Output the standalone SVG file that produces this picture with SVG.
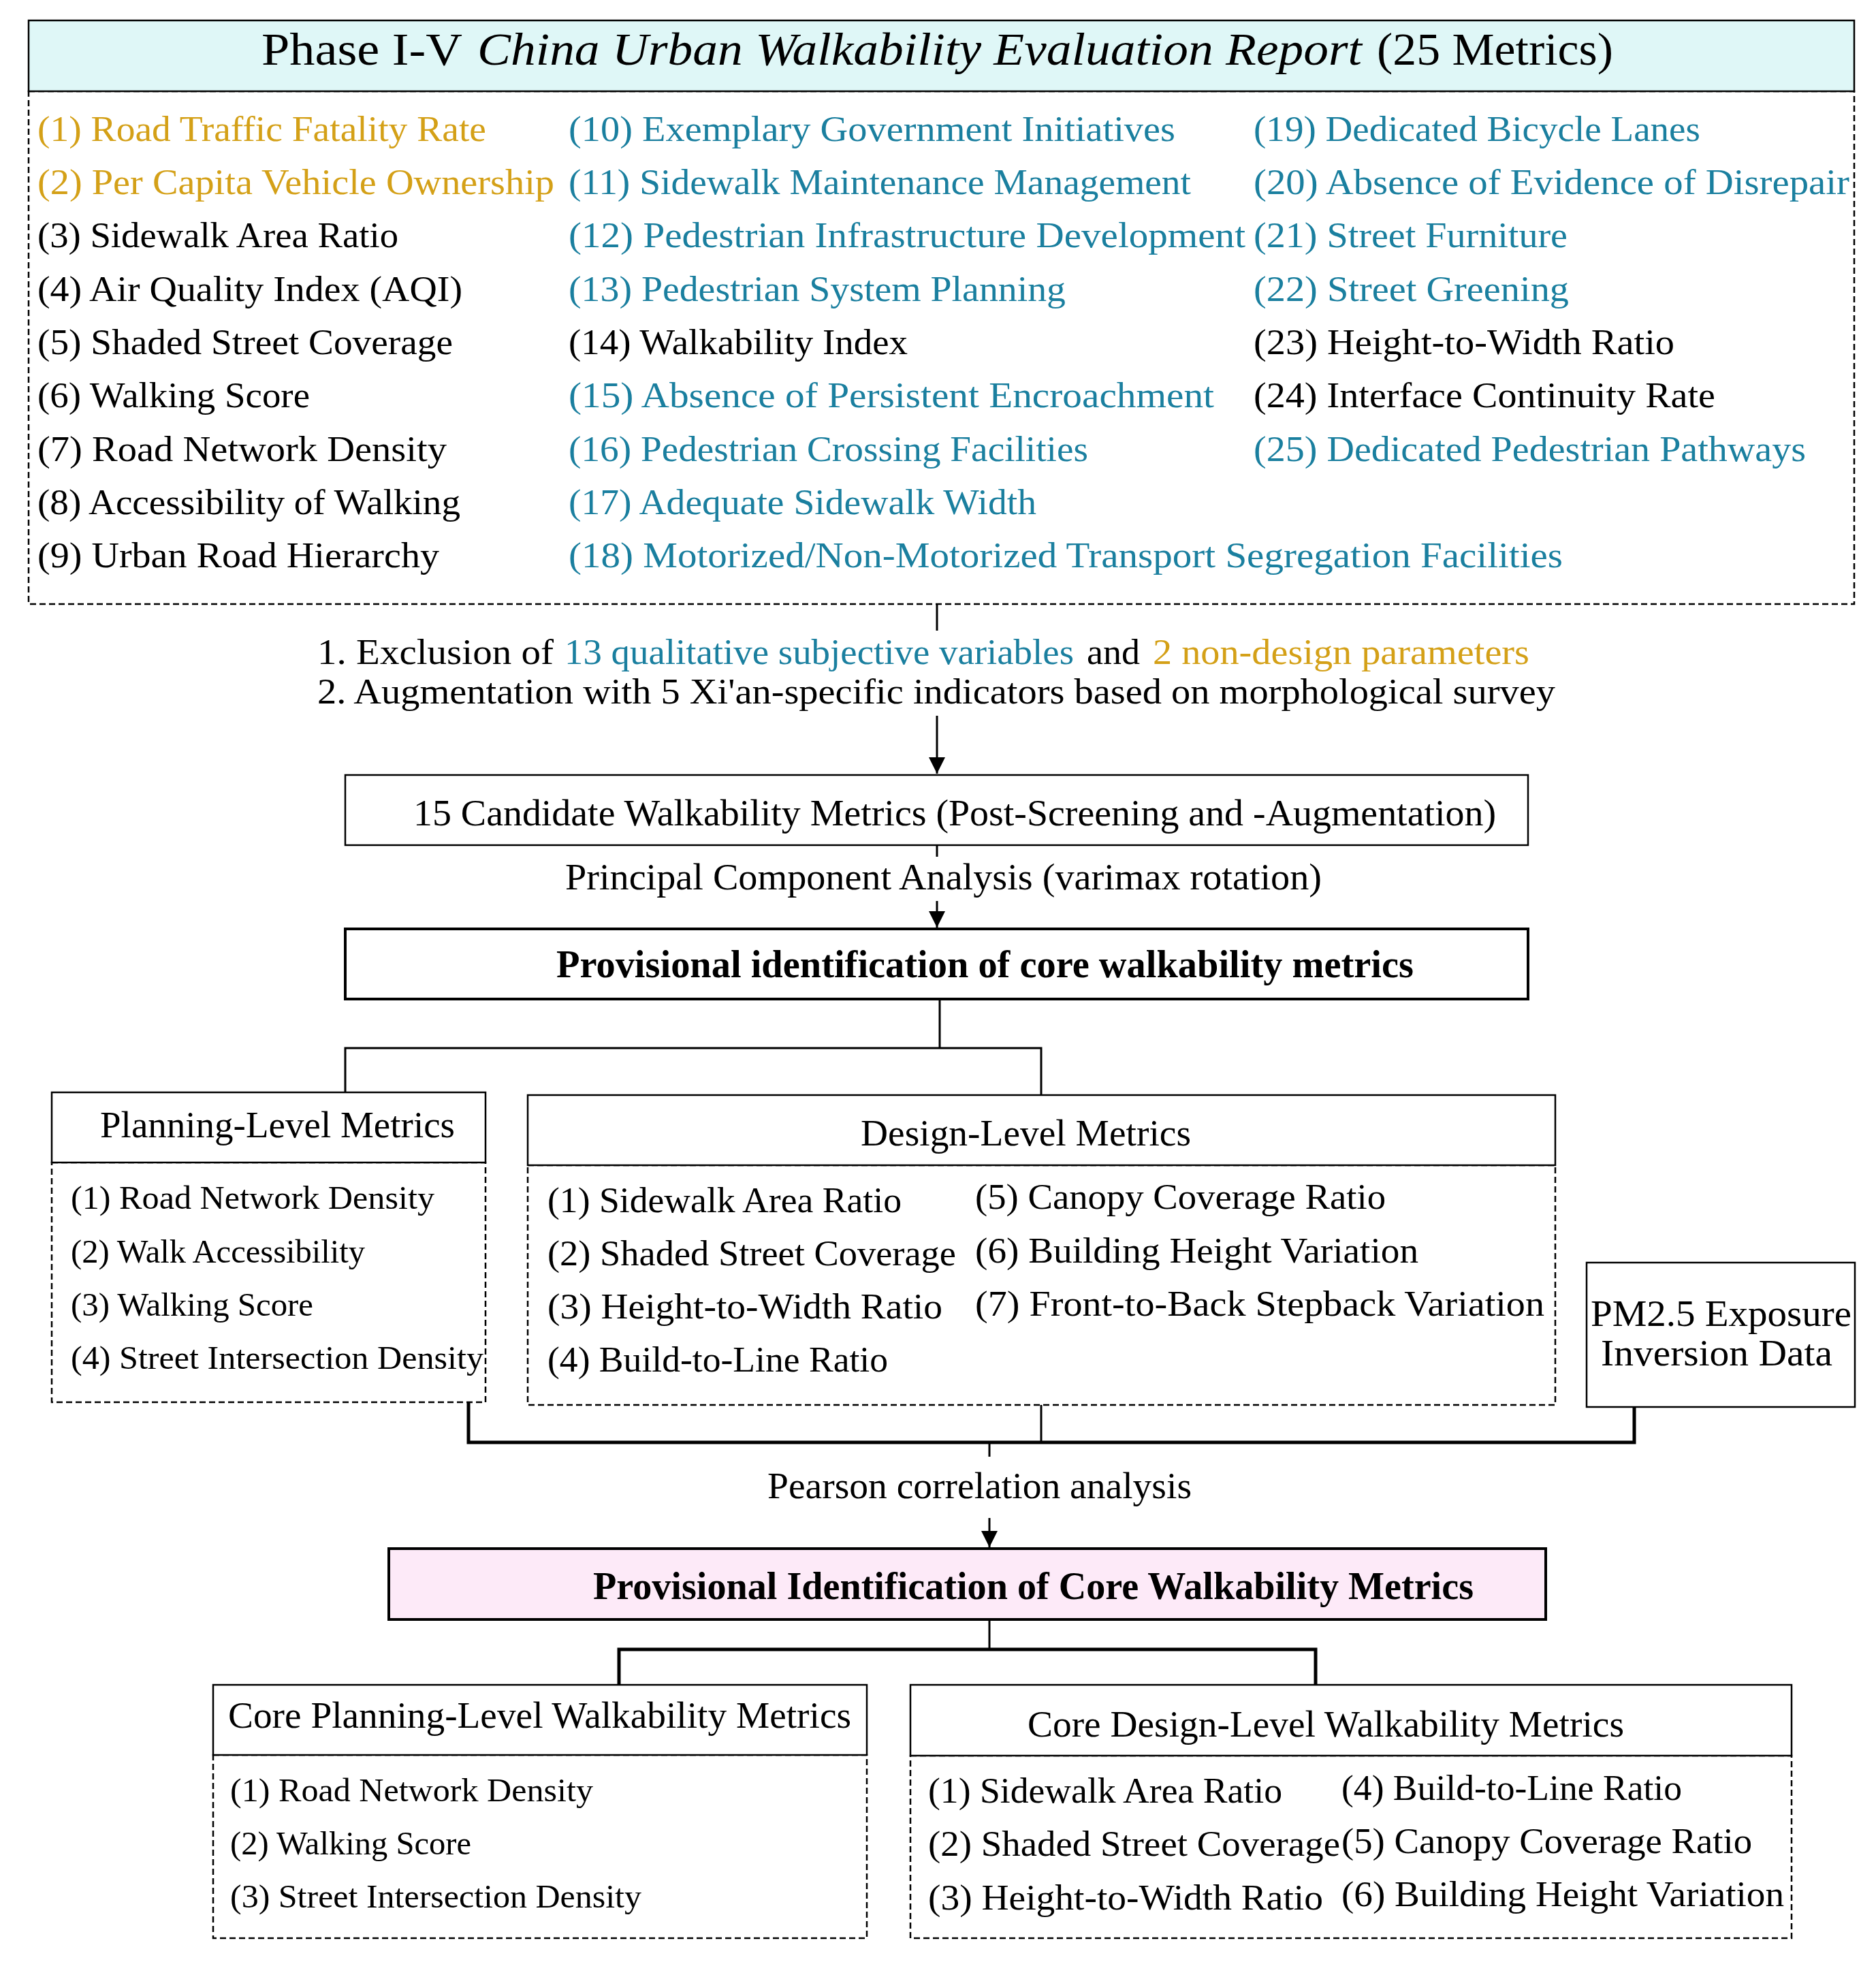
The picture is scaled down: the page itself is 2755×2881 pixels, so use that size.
<svg xmlns="http://www.w3.org/2000/svg" width="2755" height="2881" viewBox="0 0 2755 2881">
<style>
text{font-family:"Liberation Serif","DejaVu Serif",serif;fill:#000}
.ti{font-size:68px}
.l{font-size:53px}
.s{font-size:48px}
.h{font-size:55px}
.bd{font-size:57px;font-weight:bold}
.g{fill:#d4a017}
.c{fill:#1a7f9f}
.box{fill:#fff;stroke:#000;stroke-width:2.5}
.thick{fill:#fff;stroke:#000;stroke-width:4}
.dash{fill:#fff;stroke:#000;stroke-width:2.5;stroke-dasharray:9 5}
.ln{fill:none;stroke:#000;stroke-width:3}
.lnb{fill:none;stroke:#000;stroke-width:5}
</style>
<defs>
<marker id="arr" markerUnits="userSpaceOnUse" markerWidth="26" markerHeight="28" refX="24" refY="12" orient="auto">
<path d="M0,0 L24,12 L0,24 Z" fill="#000"/>
</marker>
</defs>
<rect width="2755" height="2881" fill="#fff"/>

<g id="connectors">
<line class="ln" x1="1376" y1="888" x2="1376" y2="926"/>
<line class="ln" x1="1376" y1="1051" x2="1376" y2="1136" marker-end="url(#arr)"/>
<line class="ln" x1="1376" y1="1241" x2="1376" y2="1258"/>
<line class="ln" x1="1376" y1="1323" x2="1376" y2="1362" marker-end="url(#arr)"/>
<polyline class="ln" points="1380,1467 1380,1539"/>
<polyline class="ln" points="507,1604 507,1539 1529,1539 1529,1608"/>
<polyline class="lnb" points="688,2060 688,2118 2400,2118 2400,2066"/>
<line class="ln" x1="1529" y1="2063" x2="1529" y2="2118"/>
<line class="ln" x1="1453" y1="2118" x2="1453" y2="2139"/>
<line class="ln" x1="1453" y1="2229" x2="1453" y2="2272" marker-end="url(#arr)"/>
<line class="ln" x1="1453" y1="2378" x2="1453" y2="2422"/>
<polyline class="lnb" points="909,2474 909,2422 1932,2422 1932,2474"/>
</g>

<g id="report">
<rect class="dash" x="42" y="134" width="2681" height="753"/>
<rect x="42" y="30" width="2681" height="104" fill="#dff7f7" stroke="#000" stroke-width="2.5"/>
<text class="ti" y="95"><tspan x="384" textLength="295" lengthAdjust="spacingAndGlyphs">Phase I-V</tspan><tspan x="701" font-style="italic" textLength="1299" lengthAdjust="spacingAndGlyphs">China Urban Walkability Evaluation Report</tspan><tspan x="2022" textLength="347" lengthAdjust="spacingAndGlyphs">(25 Metrics)</tspan></text>
<g class="l" >
<text class="g" x="55" y="207" textLength="659" lengthAdjust="spacingAndGlyphs">(1) Road Traffic Fatality Rate</text>
<text class="g" x="55" y="285" textLength="759" lengthAdjust="spacingAndGlyphs">(2) Per Capita Vehicle Ownership</text>
<text x="55" y="363" textLength="530" lengthAdjust="spacingAndGlyphs">(3) Sidewalk Area Ratio</text>
<text x="55" y="442" textLength="624" lengthAdjust="spacingAndGlyphs">(4) Air Quality Index (AQI)</text>
<text x="55" y="520" textLength="610" lengthAdjust="spacingAndGlyphs">(5) Shaded Street Coverage</text>
<text x="55" y="598" textLength="400" lengthAdjust="spacingAndGlyphs">(6) Walking Score</text>
<text x="55" y="677" textLength="601" lengthAdjust="spacingAndGlyphs">(7) Road Network Density</text>
<text x="55" y="755" textLength="621" lengthAdjust="spacingAndGlyphs">(8) Accessibility of Walking</text>
<text x="55" y="833" textLength="590" lengthAdjust="spacingAndGlyphs">(9) Urban Road Hierarchy</text>

<text class="c" x="835" y="207" textLength="891" lengthAdjust="spacingAndGlyphs">(10) Exemplary Government Initiatives</text>
<text class="c" x="835" y="285" textLength="914" lengthAdjust="spacingAndGlyphs">(11) Sidewalk Maintenance Management</text>
<text class="c" x="835" y="363" textLength="994" lengthAdjust="spacingAndGlyphs">(12) Pedestrian Infrastructure Development</text>
<text class="c" x="835" y="442" textLength="730" lengthAdjust="spacingAndGlyphs">(13) Pedestrian System Planning</text>
<text x="835" y="520" textLength="498" lengthAdjust="spacingAndGlyphs">(14) Walkability Index</text>
<text class="c" x="835" y="598" textLength="948" lengthAdjust="spacingAndGlyphs">(15) Absence of Persistent Encroachment</text>
<text class="c" x="835" y="677" textLength="763" lengthAdjust="spacingAndGlyphs">(16) Pedestrian Crossing Facilities</text>
<text class="c" x="835" y="755" textLength="687" lengthAdjust="spacingAndGlyphs">(17) Adequate Sidewalk Width</text>
<text class="c" x="835" y="833" textLength="1460" lengthAdjust="spacingAndGlyphs">(18) Motorized/Non-Motorized Transport Segregation Facilities</text>

<text class="c" x="1841" y="207" textLength="656" lengthAdjust="spacingAndGlyphs">(19) Dedicated Bicycle Lanes</text>
<text class="c" x="1841" y="285" textLength="875" lengthAdjust="spacingAndGlyphs">(20) Absence of Evidence of Disrepair</text>
<text class="c" x="1841" y="363" textLength="461" lengthAdjust="spacingAndGlyphs">(21) Street Furniture</text>
<text class="c" x="1841" y="442" textLength="463" lengthAdjust="spacingAndGlyphs">(22) Street Greening</text>
<text x="1841" y="520" textLength="618" lengthAdjust="spacingAndGlyphs">(23) Height-to-Width Ratio</text>
<text x="1841" y="598" textLength="678" lengthAdjust="spacingAndGlyphs">(24) Interface Continuity Rate</text>
<text class="c" x="1841" y="677" textLength="811" lengthAdjust="spacingAndGlyphs">(25) Dedicated Pedestrian Pathways</text>
</g>
</g>

<g id="screening-label" class="l">
<text y="975"><tspan x="466" textLength="347" lengthAdjust="spacingAndGlyphs">1. Exclusion of</tspan><tspan class="c" x="829" textLength="748" lengthAdjust="spacingAndGlyphs">13 qualitative subjective variables</tspan><tspan x="1596" textLength="78" lengthAdjust="spacingAndGlyphs">and</tspan><tspan class="g" x="1693" textLength="553" lengthAdjust="spacingAndGlyphs">2 non-design parameters</tspan></text>
<text x="466" y="1033" textLength="1818" lengthAdjust="spacingAndGlyphs">2. Augmentation with 5 Xi'an-specific indicators based on morphological survey</text>
</g>

<g id="candidate">
<rect class="box" x="507" y="1138" width="1737" height="103"/>
<text class="h" x="607" y="1212" textLength="1590" lengthAdjust="spacingAndGlyphs">15 Candidate Walkability Metrics (Post-Screening and -Augmentation)</text>
</g>

<g id="pca-label">
<text class="h" x="830" y="1306" textLength="1111" lengthAdjust="spacingAndGlyphs">Principal Component Analysis (varimax rotation)</text>
</g>

<g id="provisional1">
<rect class="thick" x="507" y="1364" width="1737" height="103"/>
<text class="bd" x="817" y="1435" textLength="1259" lengthAdjust="spacingAndGlyphs">Provisional identification of core walkability metrics</text>
</g>

<g id="planning">
<rect class="dash" x="76" y="1707" width="637" height="352"/>
<rect class="box" x="76" y="1604" width="637" height="103"/>
<text class="h" x="147" y="1670" textLength="521" lengthAdjust="spacingAndGlyphs">Planning-Level Metrics</text>
<g class="s">
<text x="104" y="1775" textLength="534" lengthAdjust="spacingAndGlyphs">(1) Road Network Density</text>
<text x="104" y="1854" textLength="432" lengthAdjust="spacingAndGlyphs">(2) Walk Accessibility</text>
<text x="104" y="1932" textLength="356" lengthAdjust="spacingAndGlyphs">(3) Walking Score</text>
<text x="104" y="2010" textLength="606" lengthAdjust="spacingAndGlyphs">(4) Street Intersection Density</text>
</g>
</g>

<g id="design">
<rect class="dash" x="775" y="1711" width="1509" height="352"/>
<rect class="box" x="775" y="1608" width="1509" height="103"/>
<text class="h" x="1264" y="1682" textLength="485" lengthAdjust="spacingAndGlyphs">Design-Level Metrics</text>
<g class="l">
<text x="804" y="1780" textLength="520" lengthAdjust="spacingAndGlyphs">(1) Sidewalk Area Ratio</text>
<text x="804" y="1858" textLength="600" lengthAdjust="spacingAndGlyphs">(2) Shaded Street Coverage</text>
<text x="804" y="1936" textLength="580" lengthAdjust="spacingAndGlyphs">(3) Height-to-Width Ratio</text>
<text x="804" y="2014" textLength="500" lengthAdjust="spacingAndGlyphs">(4) Build-to-Line Ratio</text>
<text x="1432" y="1775" textLength="603" lengthAdjust="spacingAndGlyphs">(5) Canopy Coverage Ratio</text>
<text x="1432" y="1854" textLength="651" lengthAdjust="spacingAndGlyphs">(6) Building Height Variation</text>
<text x="1432" y="1932" textLength="836" lengthAdjust="spacingAndGlyphs">(7) Front-to-Back Stepback Variation</text>
</g>
</g>

<g id="pm25">
<rect class="box" x="2330" y="1854" width="394" height="212"/>
<text class="h" x="2336" y="1947" textLength="383" lengthAdjust="spacingAndGlyphs">PM2.5 Exposure</text>
<text class="h" x="2351" y="2005" textLength="340" lengthAdjust="spacingAndGlyphs">Inversion Data</text>
</g>

<g id="pearson-label">
<text class="h" x="1127" y="2200" textLength="623" lengthAdjust="spacingAndGlyphs">Pearson correlation analysis</text>
</g>

<g id="provisional2">
<rect x="571" y="2274" width="1699" height="104" fill="#fdeaf8" stroke="#000" stroke-width="4"/>
<text class="bd" x="871" y="2348" textLength="1293" lengthAdjust="spacingAndGlyphs">Provisional Identification of Core Walkability Metrics</text>
</g>

<g id="core-planning">
<rect class="dash" x="313" y="2577" width="960" height="269"/>
<rect class="box" x="313" y="2474" width="960" height="103"/>
<text class="h" x="335" y="2537" textLength="915" lengthAdjust="spacingAndGlyphs">Core Planning-Level Walkability Metrics</text>
<g class="s">
<text x="338" y="2645" textLength="533" lengthAdjust="spacingAndGlyphs">(1) Road Network Density</text>
<text x="338" y="2723" textLength="354" lengthAdjust="spacingAndGlyphs">(2) Walking Score</text>
<text x="338" y="2801" textLength="604" lengthAdjust="spacingAndGlyphs">(3) Street Intersection Density</text>
</g>
</g>

<g id="core-design">
<rect class="dash" x="1337" y="2578" width="1294" height="268"/>
<rect class="box" x="1337" y="2474" width="1294" height="104"/>
<text class="h" x="1509" y="2550" textLength="876" lengthAdjust="spacingAndGlyphs">Core Design-Level Walkability Metrics</text>
<g class="l">
<text x="1363" y="2647" textLength="520" lengthAdjust="spacingAndGlyphs">(1) Sidewalk Area Ratio</text>
<text x="1363" y="2725" textLength="605" lengthAdjust="spacingAndGlyphs">(2) Shaded Street Coverage</text>
<text x="1363" y="2804" textLength="580" lengthAdjust="spacingAndGlyphs">(3) Height-to-Width Ratio</text>
<text x="1970" y="2643" textLength="500" lengthAdjust="spacingAndGlyphs">(4) Build-to-Line Ratio</text>
<text x="1970" y="2721" textLength="603" lengthAdjust="spacingAndGlyphs">(5) Canopy Coverage Ratio</text>
<text x="1970" y="2799" textLength="650" lengthAdjust="spacingAndGlyphs">(6) Building Height Variation</text>
</g>
</g>
</svg>
